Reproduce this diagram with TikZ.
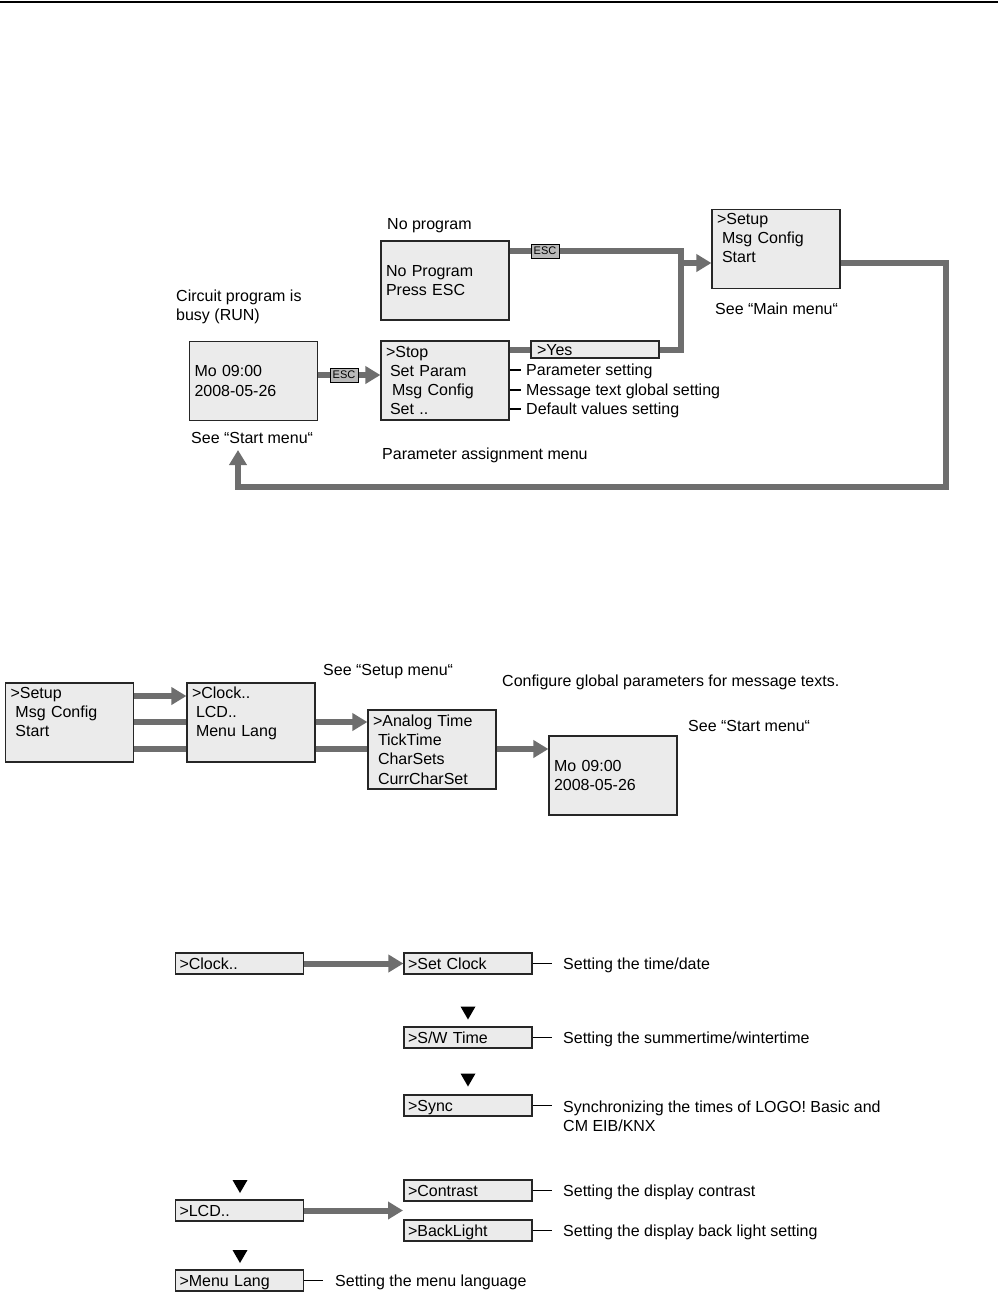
\documentclass[tikz,border=0pt]{standalone}
\usepackage{fontspec}
\setmainfont{Liberation Sans}
\usetikzlibrary{arrows.meta}
\definecolor{conncol}{RGB}{110,110,110}
\definecolor{boxfill}{RGB}{235,235,235}
\definecolor{escfill}{RGB}{185,185,185}
\newcommand\mydowntri[2]{\fill[black] (#1-7.5,#2-6.5) -- (#1+7.5,#2-6.5) -- (#1,#2+6.5) -- cycle;}
\newcommand\lastline{\rule[-2.5pt]{0pt}{0pt}}
\begin{document}
\begin{tikzpicture}[x=1pt,y=-1pt,
 every node/.style={font=\fontsize{16}{19.2}\selectfont},
 menubox/.style={draw=black!85, line width=1.2pt, fill=boxfill, minimum width=128pt, minimum height=79pt, text width=118pt, inner xsep=5pt, inner ysep=2pt, align=left},
 smallbox/.style={draw=black!85, line width=1.2pt, fill=boxfill, minimum width=128pt, minimum height=21pt, text width=120pt, inner xsep=4pt, inner ysep=0pt, align=left, text height=11.5pt, text depth=0pt},
 esclabel/.style={draw=black, line width=0.8pt, fill=escfill, minimum width=28pt, minimum height=14pt, inner sep=0pt, font=\fontsize{11}{12}\selectfont},
 lbl/.style={anchor=west, inner sep=0pt, text height=11.5pt, text depth=0pt},
 lbltwo/.style={anchor=west, inner sep=0pt, align=left},
 conn/.style={draw=conncol, line width=6pt},
 connarrow/.style={conn, -{Triangle[width=17pt,length=15pt]}},
 tick/.style={draw=black, line width=1.5pt},
 ]
\useasboundingbox (0,0) rectangle (998,1312);
\draw[black, line width=2pt] (0,1.5) -- (998,1.5);

% ---------- Section 1 ----------
\node[lbl] (tnop) at (387,224) {No program};
\node[menubox] (nop) at (445,280.5) {No Program\\Press ESC};
\node[menubox] (setup) at (776,249) {>Setup\\\hspace*{5pt}Msg Config\\\hspace*{5pt}Start\\\lastline};
\node[lbl] (tseemain) at (715,309) {See “Main menu“};
\node[lbltwo] (tcirc) at (176,306.5) {Circuit program is\\busy (RUN)};
\node[menubox] (start) at (253.5,381) {Mo 09:00\\2008-05-26};
\node[menubox] (stop) at (445,380.5) {>Stop\\\hspace*{4pt}Set Param\\\hspace*{6pt}Msg Config\\\hspace*{4pt}Set ..};
\node[smallbox, minimum height=17pt] (yes) at (595,349.5) {\hspace*{2pt}>Yes};
\node[lbl] (p1) at (526,370) {Parameter setting};
\node[lbl] (p2) at (526,390) {Message text global setting};
\node[lbl] (p3) at (526,409) {Default values setting};
\node[lbl] (tseestart) at (191,438) {See “Start menu“};
\node[lbl] (tparam) at (382,454) {Parameter assignment menu};

\coordinate (jtop) at (681,251);
\coordinate (jmid) at (681,263);
\coordinate (escy) at (0,375);
\coordinate (lp1) at (946,263);
\coordinate (lp2) at (946,487);
\coordinate (lp3) at (238,487);
\coordinate (lpend) at (238,450);

\draw[conn] (nop.east |- jtop) -- (jtop) -- (jtop |- yes.east) -- (yes.east);
\draw[conn] (stop.east |- yes.east) -- (yes.west);
\draw[connarrow] (jmid) -- (setup.west |- jmid);
\node[esclabel] (esc1) at (545,251) {ESC};
\draw[connarrow] (start.east |- escy) -- (stop.west |- escy);
\node[esclabel] (esc2) at (344,375) {ESC};
\draw[connarrow] (setup.east |- lp1) -- (lp1) -- (lp2) -- (lp3) -- (lpend);

\coordinate (k1) at ([xshift=-5pt]p1.west);
\coordinate (k2) at ([xshift=-5pt]p2.west);
\coordinate (k3) at ([xshift=-5pt]p3.west);
\draw[tick] (stop.east |- k1) -- (k1);
\draw[tick] (stop.east |- k2) -- (k2);
\draw[tick] (stop.east |- k3) -- (k3);

% ---------- Section 2 ----------
\node[lbl] (tseesetup) at (323,670) {See “Setup menu“};
\node[menubox] (setup2) at (69.5,722.5) {>Setup\\\hspace*{5pt}Msg Config\\\hspace*{5pt}Start\\\lastline};
\node[menubox] (clock) at (251,722.5) {>Clock..\\\hspace*{4pt}LCD..\\\hspace*{4pt}Menu Lang\\\lastline};
\node[menubox] (analog) at (432,749.5) {>Analog Time\\\hspace*{5pt}TickTime\\\hspace*{5pt}CharSets\\\hspace*{5pt}CurrCharSet};
\node[lbl] (tconf) at (502,681) {Configure global parameters for message texts.};
\node[lbl] (tseestart2) at (688,726) {See “Start menu“};
\node[menubox] (mo2) at (613,775.5) {Mo 09:00\\2008-05-26};

\coordinate (r1) at (0,696);
\coordinate (r2) at (0,722);
\coordinate (r3) at (0,749);
\draw[connarrow] (setup2.east |- r1) -- (clock.west |- r1);
\draw[conn] (setup2.east |- r2) -- (clock.west |- r2);
\draw[conn] (setup2.east |- r3) -- (clock.west |- r3);
\draw[conn] (clock.east |- r3) -- (analog.west |- r3);
\draw[connarrow] (clock.east |- r2) -- (analog.west |- r2);
\draw[connarrow] (analog.east |- r3) -- (mo2.west |- r3);

% ---------- Section 3 ----------
\node[smallbox] (c1) at (239.5,963.5) {>Clock..};
\node[smallbox] (sc) at (468,963.5) {>Set Clock};
\node[smallbox] (sw) at (468,1037.5) {>S/W Time};
\node[smallbox] (sy) at (468,1105.5) {>Sync};
\node[smallbox] (lcd) at (239.5,1210.5) {>LCD..};
\node[smallbox] (ct) at (468,1190.5) {>Contrast};
\node[smallbox] (bl) at (468,1230.5) {>BackLight};
\node[smallbox] (ml) at (239.5,1280.5) {>Menu Lang};

\node[lbl] (tsc) at (563,963.5) {Setting the time/date};
\node[lbl] (tsw) at (563,1037.5) {Setting the summertime/wintertime};
\node[lbltwo] (tsy) at (563,1116) {Synchronizing the times of LOGO! Basic and\\CM EIB/KNX};
\node[lbl] (tct) at (563,1190.5) {Setting the display contrast};
\node[lbl] (tbl) at (563,1230.5) {Setting the display back light setting};
\node[lbl] (tml) at (335,1280.5) {Setting the menu language};

\coordinate (lcdend) at (403,1210.5);
\draw[connarrow] (c1) -- (sc);
\draw[connarrow] (lcd) -- (lcdend);

\coordinate (ksc) at ([xshift=-11pt]tsc.west);
\coordinate (ksw) at ([xshift=-11pt]tsw.west);
\coordinate (ksy) at ([xshift=-11pt]tsy.west);
\coordinate (kct) at ([xshift=-11pt]tct.west);
\coordinate (kbl) at ([xshift=-11pt]tbl.west);
\coordinate (kml) at ([xshift=-12pt]tml.west);
\draw[tick] (sc.east) -- (ksc);
\draw[tick] (sw.east) -- (ksw);
\draw[tick] (sy.east) -- (ksy |- sy.east);
\draw[tick] (ct.east) -- (kct);
\draw[tick] (bl.east) -- (kbl);
\draw[tick] (ml.east) -- (kml);

\mydowntri{468}{1013}
\mydowntri{468}{1080}
\mydowntri{240}{1186.5}
\mydowntri{240}{1256.5}
\end{tikzpicture}
\end{document}
